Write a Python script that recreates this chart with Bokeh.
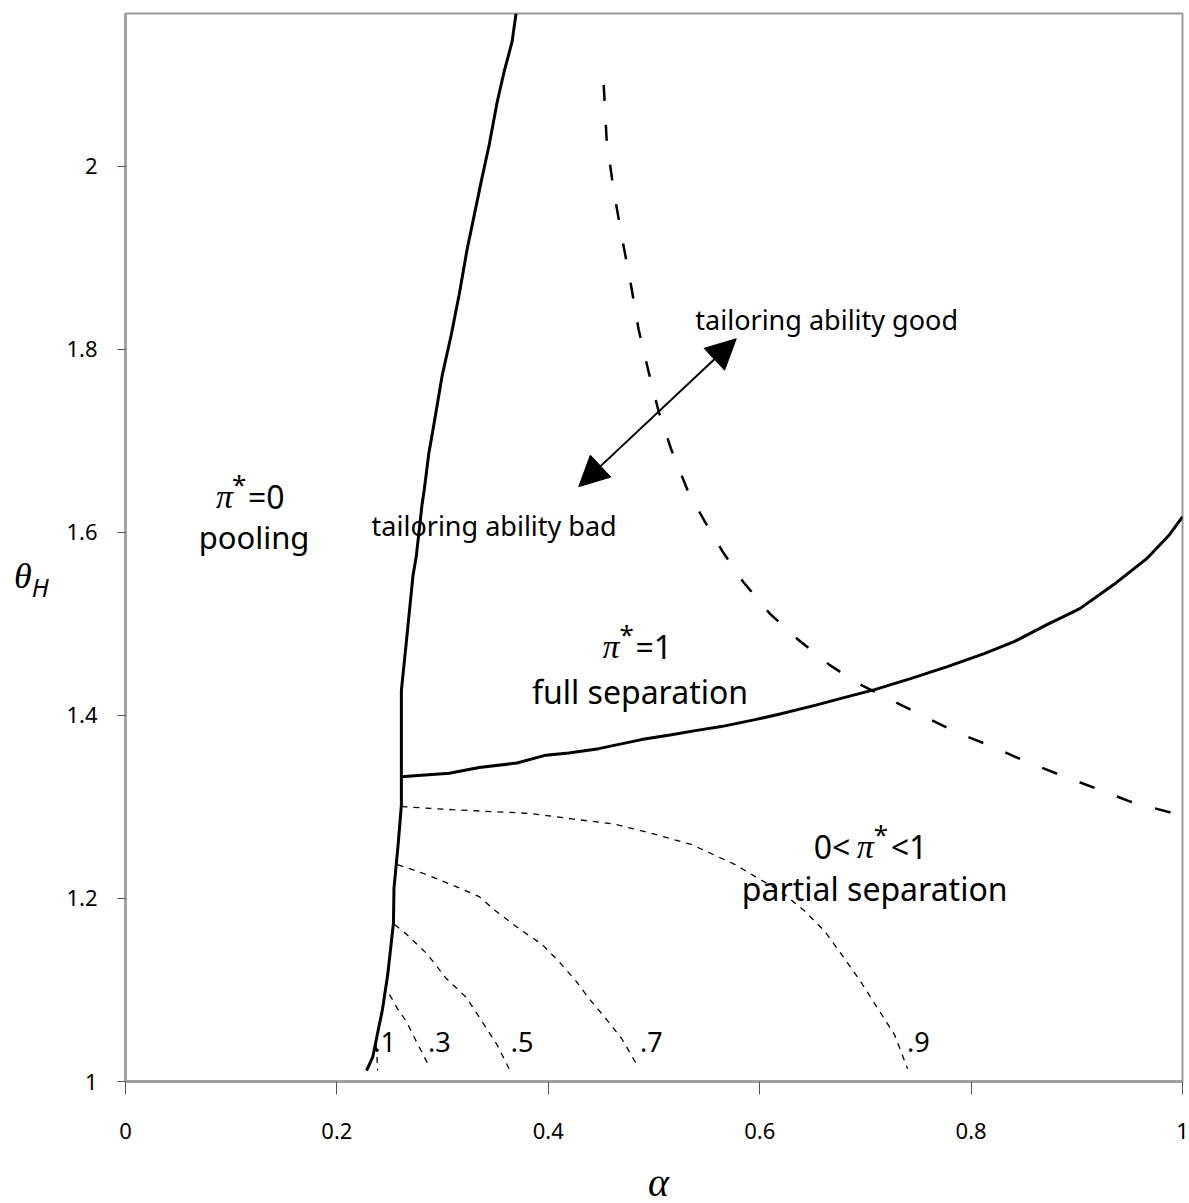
import numpy as np
from bokeh.plotting import figure
from bokeh.layouts import row, column
from bokeh.models import Label, Arrow, NormalHead, FixedTicker, Range1d, Div
from bokeh.embed import file_html
from bokeh.resources import INLINE

# ---------------- data ----------------
# pooling boundary (solid, left)
pool_alpha = [0.228, 0.234, 0.238, 0.243, 0.248, 0.2535, 0.254, 0.258, 0.261, 0.261,
              0.266, 0.272, 0.275, 0.2805, 0.2828, 0.2868, 0.2922, 0.2997, 0.3082,
              0.3157, 0.3233, 0.3300, 0.3370, 0.344, 0.3516, 0.3581, 0.3657, 0.3695]
pool_theta = [1.012, 1.027, 1.050, 1.078, 1.116, 1.173, 1.211, 1.260, 1.302, 1.427,
              1.484, 1.553, 1.573, 1.630, 1.648, 1.685, 1.721, 1.772, 1.816,
              1.860, 1.910, 1.947, 1.986, 2.023, 2.070, 2.103, 2.136, 2.167]

# full-separation boundary (solid, right)
sep_alpha = [0.2608, 0.3063, 0.3346, 0.3704, 0.3977, 0.4194, 0.4477, 0.4882, 0.5165,
             0.5391, 0.5636, 0.5957, 0.6173, 0.6522, 0.6833, 0.7088, 0.7427, 0.7776,
             0.8124, 0.8407, 0.8718, 0.9029, 0.935, 0.9661, 0.9877, 1.0]
sep_theta = [1.333, 1.3368, 1.343, 1.348, 1.3566, 1.359, 1.3637, 1.3736, 1.379,
             1.3834, 1.3878, 1.3954, 1.401, 1.411, 1.4205, 1.4282, 1.4402, 1.4533,
             1.4675, 1.4806, 1.4992, 1.5167, 1.543, 1.5713, 1.5975, 1.617]

# tailoring-ability boundary (long dashes)
tail_alpha = [0.4524, 0.4552, 0.4618, 0.4694, 0.4778, 0.4854, 0.4948, 0.5042, 0.5165,
              0.5325, 0.5485, 0.5655, 0.5843, 0.6098, 0.6362, 0.6663, 0.6946, 0.7238,
              0.7521, 0.7851, 0.82, 0.8511, 0.8841, 0.9189, 0.95, 0.9915]
tail_theta = [2.089, 2.029, 1.974, 1.924, 1.873, 1.822, 1.776, 1.733, 1.690, 1.644,
              1.611, 1.578, 1.546, 1.511, 1.483, 1.455, 1.434, 1.417, 1.401, 1.382,
              1.366, 1.350, 1.335, 1.320, 1.306, 1.293]

# iso-pi* contours (short dashes)
c9_alpha = [0.2611, 0.3091, 0.3817, 0.4222, 0.4637, 0.5014, 0.5353, 0.5768, 0.5985,
            0.6202, 0.6428, 0.6616, 0.6805, 0.6956, 0.7116, 0.7276, 0.7399]
c9_theta = [1.3004, 1.297, 1.293, 1.287, 1.281, 1.270, 1.259, 1.237, 1.222, 1.2075,
            1.186, 1.164, 1.134, 1.109, 1.080, 1.051, 1.014]
c7_alpha = [0.2573, 0.2828, 0.3129, 0.3346, 0.3506, 0.3723, 0.394, 0.41, 0.426,
            0.4383, 0.4543, 0.4694, 0.4835]
c7_theta = [1.237, 1.227, 1.213, 1.202, 1.186, 1.167, 1.150, 1.131, 1.110, 1.091,
            1.069, 1.047, 1.019]
c5_alpha = [0.2545, 0.2658, 0.2856, 0.3035, 0.3223, 0.3374, 0.3516, 0.3629]
c5_theta = [1.1715, 1.161, 1.139, 1.1125, 1.092, 1.0655, 1.040, 1.014]
c3_alpha = [0.2498, 0.2573, 0.2658, 0.2752, 0.2875]
c3_theta = [1.095, 1.0797, 1.0655, 1.0437, 1.016]
c1_alpha = [0.2370, 0.2380, 0.2385]
c1_theta = [1.040, 1.025, 1.012]

contour_names = [".1", ".3", ".5", ".7", ".9"]
contour_label_alpha = [0.2451, 0.2969, 0.3751, 0.4976, 0.7502]
contour_label_theta = [1.0437, 1.0437, 1.0437, 1.0437, 1.0437]

x_ticks = [0, 0.2, 0.4, 0.6, 0.8, 1.0]
x_tick_labels = ["0", "0.2", "0.4", "0.6", "0.8", "1"]
y_ticks = [1, 1.2, 1.4, 1.6, 1.8, 2.0]
y_tick_labels = ["1", "1.2", "1.4", "1.6", "1.8", "2"]

# ---------------- figure ----------------
SANS = "Noto Sans"
SERIF = "Liberation Serif"
GRAY = "#9a9a9a"
DIV_W = 57
FIG_H = 1160

p = figure(width=1189 - DIV_W, height=FIG_H, x_range=Range1d(0, 1), y_range=Range1d(1, 2.167),
           output_backend="svg", toolbar_location=None,
           min_border_left=125 - DIV_W, min_border_right=7, min_border_top=13,
           min_border_bottom=FIG_H - 1081)
p.xgrid.visible = False
p.ygrid.visible = False
p.outline_line_color = GRAY
p.outline_line_width = 2
p.background_fill_color = "white"
p.border_fill_color = "white"

for ax, ticks, labels in ((p.xaxis[0], x_ticks, x_tick_labels), (p.yaxis[0], y_ticks, y_tick_labels)):
    ax.ticker = FixedTicker(ticks=ticks)
    ax.major_label_overrides = {t: l for t, l in zip(ticks, labels)}
    ax.axis_line_color = GRAY
    ax.axis_line_width = 2.5
    ax.major_tick_line_color = "#555555"
    ax.major_tick_line_width = 1
    ax.major_tick_in = 0
    ax.minor_tick_line_color = None
    ax.major_label_text_font = SANS
    ax.major_label_text_font_size = "22px"
    ax.major_label_text_color = "black"
p.xaxis.major_tick_out = 13
p.yaxis.major_tick_out = 8
p.xaxis.major_label_standoff = 28
p.yaxis.major_label_standoff = 20

# lines
p.line(pool_alpha, pool_theta, line_color="black", line_width=3)
p.line(sep_alpha, sep_theta, line_color="black", line_width=3)
p.line(tail_alpha, tail_theta, line_color="black", line_width=2.5, line_dash="16 24")
for xs, ys in ((c9_alpha, c9_theta), (c7_alpha, c7_theta), (c5_alpha, c5_theta),
               (c3_alpha, c3_theta), (c1_alpha, c1_theta)):
    p.line(xs, ys, line_color="black", line_width=1.3, line_dash="6 6")


def lab(x, y, text, size="30px", font=SANS, style="normal", align="left", dx=0, dy=0):
    p.add_layout(Label(x=x, y=y, text=text, text_font=font, text_font_size=size,
                       text_font_style=style, text_align=align, text_baseline="alphabetic",
                       x_offset=dx, y_offset=dy, text_color="black"))


for name, xa, ya in zip(contour_names, contour_label_alpha, contour_label_theta):
    lab(xa, ya, name, size="27px", align="center")

# pi*=0 / pooling
lab(0.1216, 1.639, "\u03c0", size="34px", font=SERIF, style="italic", dx=-38)
lab(0.1216, 1.639, "*", size="26px", dx=-22, dy=13)
lab(0.1216, 1.639, "=0", size="32px", dx=-6)
lab(0.1216, 1.5953, "pooling", size="31px", align="center")

# pi*=1 / full separation
lab(0.4844, 1.4751, "\u03c0", size="34px", font=SERIF, style="italic", dx=-35)
lab(0.4844, 1.4751, "*", size="26px", dx=-18, dy=13)
lab(0.4844, 1.4751, "=1", size="32px", dx=-2)
lab(0.4868, 1.426, "full separation", size="32px", align="center")

# 0<pi*<1 / partial separation
lab(0.7059, 1.2567, "0<", size="32px", dx=-58)
lab(0.7059, 1.2567, "\u03c0", size="34px", font=SERIF, style="italic", dx=-15)
lab(0.7059, 1.2567, "*", size="26px", dx=2, dy=13)
lab(0.7059, 1.2567, "<1", size="32px", dx=19)
lab(0.7088, 1.2108, "partial separation", size="32px", align="center")

# tailoring annotations
lab(0.5391, 1.8323, "tailoring ability good", size="27px")
lab(0.2328, 1.6073, "tailoring ability bad", size="27px")
p.add_layout(Arrow(start=NormalHead(size=30, fill_color="black", line_color="black"),
                   end=NormalHead(size=30, fill_color="black", line_color="black"),
                   x_start=0.4288, y_start=1.65, x_end=0.5778, y_end=1.8116,
                   line_color="black", line_width=2))

# axis titles (horizontal theta_H with subscript, alpha below)
ylab = Div(width=DIV_W, height=FIG_H, margin=0,
           text=('<div style="padding-top:558px;padding-left:14px;color:black;'
                 'font-family:\'Liberation Serif\';font-style:italic;font-size:36px;'
                 'line-height:1;white-space:nowrap;">\u03b8<span style="font-family:'
                 '\'Noto Sans\';font-size:25px;position:relative;top:9px;">H</span></div>'))
xlab = Div(width=1189, height=1203 - FIG_H, margin=0,
           text=('<div style="padding-top:3px;padding-left:648px;color:black;'
                 'font-family:\'Liberation Serif\';font-style:italic;font-size:40px;'
                 'line-height:1;white-space:nowrap;">\u03b1</div>'))

layout = column(row(ylab, p, spacing=0), xlab, spacing=0)
open("out.html", "w").write(file_html(layout, INLINE))
